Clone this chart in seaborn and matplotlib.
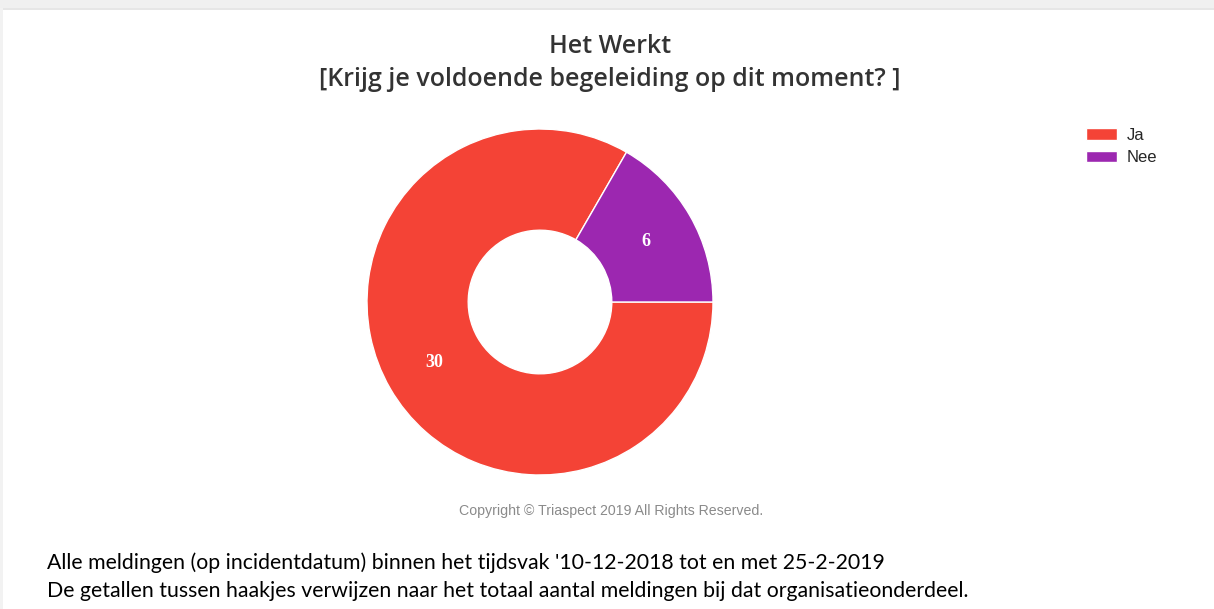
import matplotlib
matplotlib.use("Agg")
import matplotlib.pyplot as plt
import seaborn as sns
from matplotlib.patches import Rectangle, Patch

# data
labels = ["Ja", "Nee"]
counts = [30, 6]
colors = ["#F44336", "#9C27B0"]
title = "Het Werkt\n[Krijg je voldoende begeleiding op dit moment? ]"
copyright_txt = "Copyright \u00a9 Triaspect 2019 All Rights Reserved."
footer = ["Alle meldingen (op incidentdatum) binnen het tijdsvak '10-12-2018 tot en met 25-2-2019",
          "De getallen tussen haakjes verwijzen naar het totaal aantal meldingen bij dat organisatieonderdeel."]

sns.set_style("white")

W, H = 1214, 609
fig = plt.figure(figsize=(W / 100, H / 100), dpi=100)
fig.patch.set_facecolor("white")

# light frame at top / left like the screenshot
fig.patches.append(Rectangle((0, 1 - 8 / H), 1, 8 / H, transform=fig.transFigure,
                             facecolor="#f0f0f0", edgecolor="none", zorder=0))
fig.patches.append(Rectangle((0, 1 - 10 / H), 1, 2 / H, transform=fig.transFigure,
                             facecolor="#e6e6e6", edgecolor="none", zorder=0))
fig.patches.append(Rectangle((0, 0), 3 / W, 1 - 8 / H, transform=fig.transFigure,
                             facecolor="#f2f2f2", edgecolor="none", zorder=0))

# donut
cx, cy, r = 540, 302, 173
ax = fig.add_axes([(cx - r) / W, (H - cy - r) / H, 2 * r / W, 2 * r / H])
wedges, texts = ax.pie(counts, colors=colors, startangle=60, counterclock=True,
                       labels=[str(c) for c in counts], labeldistance=0.705,
                       wedgeprops=dict(width=0.585, edgecolor="white", linewidth=1),
                       textprops=dict(color="white", fontsize=13, fontweight="bold",
                                      family="Liberation Serif", ha="center", va="center"))
ax.set_xlim(-1, 1)
ax.set_ylim(-1, 1)
ax.set_aspect("equal")
ax.axis("off")

# title
fig.text(610 / W, 1 - 63 / H, title, ha="center", va="center", fontsize=18,
         fontweight="semibold", family="Open Sans", color="#333333", linespacing=1.4)

# legend
handles = [Patch(facecolor=c, label=l) for c, l in zip(colors, labels)]
fig.legend(handles=handles, loc="upper left", bbox_to_anchor=(1074 / W, 1 - 116 / H),
           frameon=False, prop=dict(family="Liberation Sans", size=12),
           handlelength=1.9, handleheight=0.7, handletextpad=0.55, labelspacing=0.45,
           borderpad=0.2)

# copyright
fig.text(611 / W, 1 - 511 / H, copyright_txt, ha="center", va="center", fontsize=10.2,
         family="Liberation Sans", color="#8a8a8a")

# footer
fig.text(47 / W, 1 - 563 / H, footer[0], ha="left", va="center", fontsize=15.3,
         family="Lato", color="black")
fig.text(47 / W, 1 - 591 / H, footer[1], ha="left", va="center", fontsize=15.3,
         family="Lato", color="black")

fig.savefig("out.png", dpi=100)
